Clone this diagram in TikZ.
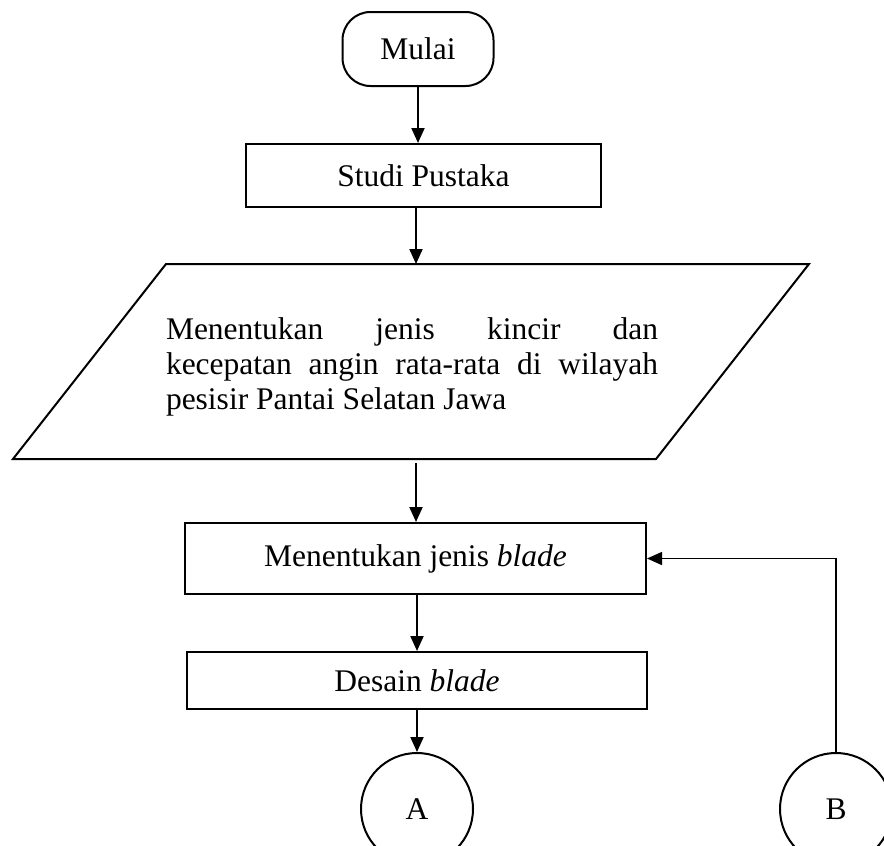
\documentclass[tikz,border=0pt]{standalone}
\usepackage{fontspec}
\setmainfont{Liberation Serif}
\usetikzlibrary{arrows.meta}

\begin{document}
\begin{tikzpicture}[x=1pt,y=-1pt,
	huruf/.style={font=\fontsize{31.5}{35}\selectfont},
	proses/.style={draw,line width=2pt,inner sep=0pt,huruf},
	terminal/.style={proses,rounded corners=28pt},
	konektor/.style={proses,circle},
	panah/.style={line width=2pt,-{Triangle[length=15pt,width=13pt]}}]
	\useasboundingbox (0,0) rectangle (884,846);
	\clip (0,0) rectangle (884,846);
	\node[terminal,minimum width=151pt,minimum height=74pt] (mulai) at (418,49) {Mulai};
	\node[proses,minimum width=355pt,minimum height=63pt] (studi) at (423.5,175.5) {Studi Pustaka};
	\draw[line width=2pt] (166,264) -- (809,264) -- (656,459) -- (13,459) -- cycle;
	\coordinate (paraAtas) at (416,264);
	\coordinate (paraBawah) at (416,459);
	\node[huruf,text width=492pt,align=justify,inner sep=0pt] (tentukan) at (412,367)
		{Menentukan jenis kincir dan\linebreak kecepatan angin rata-rata di wilayah\linebreak pesisir Pantai Selatan Jawa};
	\node[proses,minimum width=461pt,minimum height=71pt] (jenis) at (415.5,558.5) {Menentukan jenis \textit{blade}};
	\node[proses,minimum width=460pt,minimum height=57pt] (desain) at (417,680.5) {Desain \textit{blade}};
	\node[konektor,minimum size=112pt] (A) at (417,809) {A};
	\node[konektor,minimum size=112pt] (B) at (836,809) {B};
	\draw[panah] (mulai.south) -- (mulai.south |- studi.north);
	\draw[panah] (paraAtas |- studi.south) -- (paraAtas);
	\draw[panah,shorten <=4pt] (paraBawah) -- (paraBawah |- jenis.north);
	\draw[panah] (desain.north |- jenis.south) -- (desain.north);
	\draw[panah] (desain) -- (A);
	\draw[line width=1.5pt,-{Triangle[length=15pt,width=13pt]}] (B.north) |- (jenis.east);
\end{tikzpicture}
\end{document}
